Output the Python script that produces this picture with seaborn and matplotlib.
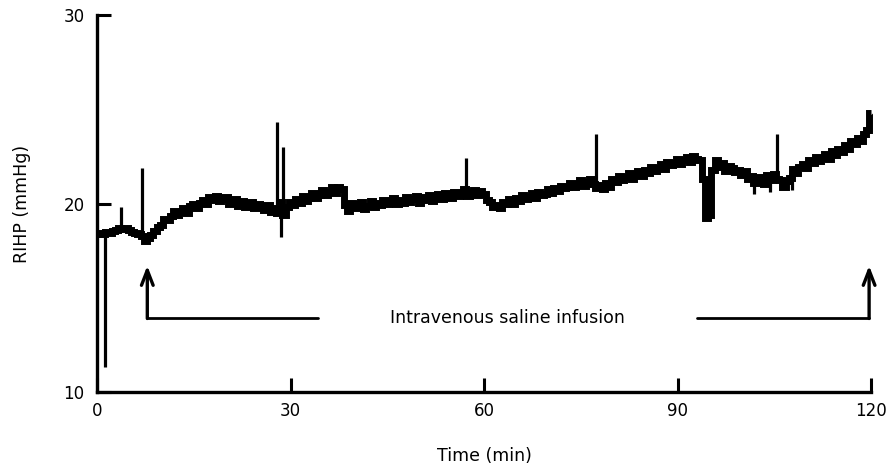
import numpy as np
import pandas as pd
import matplotlib
matplotlib.use("Agg")
import matplotlib.pyplot as plt
import seaborn as sns

# pressao intra-renal (RIHP), leitura a cada 0.5 min de 0 a 120
rihp = [
    18.40, 18.45, 18.40, 18.50, 18.45, 18.55, 18.60, 18.70, 18.65, 18.70,
    18.60, 18.50, 18.45, 18.40, 18.30, 18.00, 18.15, 18.35, 18.55, 18.75,
    18.85, 19.20, 19.10, 19.35, 19.60, 19.40, 19.55, 19.75, 19.50, 19.85,
    19.95, 19.75, 20.05, 20.20, 19.95, 20.35, 20.20, 20.40, 20.15, 20.25,
    20.35, 19.95, 20.10, 20.25, 19.85, 20.15, 19.80, 19.95, 20.10, 19.75,
    19.95, 19.80, 19.65, 19.90, 19.55, 19.75, 19.50, 20.10, 19.40, 19.80,
    20.10, 19.90, 20.25, 20.05, 20.40, 20.15, 20.30, 20.55, 20.30, 20.45,
    20.70, 20.45, 20.60, 20.85, 20.55, 20.90, 20.75, 19.90, 19.60, 20.05,
    19.75, 19.95, 20.10, 19.70, 19.85, 20.15, 19.80, 20.05, 19.90, 20.20,
    19.95, 20.10, 20.30, 19.95, 20.20, 20.05, 20.35, 20.10, 20.25, 20.40,
    20.05, 20.35, 20.20, 20.45, 20.15, 20.30, 20.50, 20.25, 20.55, 20.35,
    20.30, 20.60, 20.40, 20.50, 20.75, 20.40, 20.60, 20.70, 20.45, 20.65,
    20.50, 20.20, 20.10, 19.80, 19.90, 19.75, 20.10, 19.95, 20.25, 20.00,
    20.30, 20.15, 20.45, 20.25, 20.35, 20.55, 20.30, 20.60, 20.45, 20.50,
    20.75, 20.55, 20.80, 20.65, 20.95, 20.80, 20.90, 21.10, 20.85, 21.05,
    21.25, 20.95, 21.15, 21.30, 21.05, 20.80, 21.00, 20.75, 21.10, 20.90,
    21.30, 21.15, 21.45, 21.25, 21.40, 21.60, 21.30, 21.55, 21.75, 21.45,
    21.80, 21.60, 21.95, 21.75, 21.90, 22.10, 21.85, 22.20, 22.05, 22.15,
    22.35, 22.10, 22.30, 22.45, 22.20, 22.50, 22.35, 22.30, 21.30, 19.25,
    19.40, 21.80, 22.30, 21.95, 22.15, 21.75, 22.00, 21.90, 21.65, 21.80,
    21.50, 21.70, 21.30, 21.45, 21.10, 21.40, 21.20, 21.05, 21.50, 21.25,
    21.55, 21.30, 21.25, 20.90, 21.20, 21.35, 21.85, 21.60, 21.95, 22.10,
    21.90, 22.30, 22.15, 22.45, 22.25, 22.40, 22.65, 22.35, 22.80, 22.55,
    22.90, 22.75, 23.10, 22.90, 23.30, 23.15, 23.45, 23.30, 23.70, 23.90,
    24.80,
]
time = np.arange(len(rihp)) * 0.5

# picos (artefatos) do registro: tempo, minimo, maximo
spike_t = [1.3, 3.7, 7.0, 27.9, 28.5, 28.8, 57.2, 77.4, 78.3,
           101.8, 104.3, 105.4, 107.8]
spike_lo = [11.3, 18.5, 18.3, 19.5, 18.2, 19.5, 20.5, 21.1, 20.6,
            20.5, 20.6, 21.3, 20.7]
spike_hi = [18.4, 19.8, 21.9, 24.3, 20.0, 23.0, 22.4, 23.7, 21.1,
            21.4, 21.2, 23.7, 21.3]

df = pd.DataFrame({"time": time, "rihp": rihp})

sns.set_theme(style="ticks")
plt.rcParams["font.family"] = ["DejaVu Sans"]
plt.rcParams["text.color"] = "black"
plt.rcParams["axes.labelcolor"] = "black"

fig = plt.figure(figsize=(8.89, 4.72), dpi=100)
ax = fig.add_axes([0.1091, 0.1695, 0.8707, 0.7987])

sns.lineplot(data=df, x="time", y="rihp", ax=ax, color="black",
             lw=5.0, estimator=None, clip_on=False, drawstyle="steps-mid",
             solid_joinstyle="miter", solid_capstyle="butt")
ax.vlines(spike_t, spike_lo, spike_hi, color="black", lw=2.3)

# setas da infusao salina
for xa in [7.8, 119.7]:
    ax.annotate("", xy=(xa, 16.7), xytext=(xa, 13.9),
                arrowprops=dict(arrowstyle="->,head_width=0.35,head_length=0.9",
                                lw=2.4, color="black", shrinkA=0, shrinkB=0))
ax.plot([7.8, 34.3], [13.93, 13.93], color="black", lw=2.0)
ax.plot([93.0, 119.7], [13.93, 13.93], color="black", lw=2.0)
ax.text(63.7, 13.93, "Intravenous saline infusion", ha="center", va="center",
        fontsize=12.5)

ax.set_xlim(0, 120)
ax.set_ylim(10, 30)
ax.set_xticks([0, 30, 60, 90, 120])
ax.set_yticks([10, 20, 30])
ax.tick_params(direction="in", length=10, width=2.2, labelsize=12,
               colors="black")
ax.tick_params(axis="x", pad=7)
ax.tick_params(axis="y", pad=9)
sns.despine(ax=ax)
for s in ["left", "bottom"]:
    ax.spines[s].set_linewidth(2.4)
    ax.spines[s].set_color("black")

ax.set_xlabel("Time (min)", fontsize=12.5)
ax.set_ylabel("RIHP (mmHg)", fontsize=12.5)
ax.xaxis.set_label_coords(0.5, -0.146)
ax.yaxis.set_label_coords(-0.085, 0.5)

fig.savefig("out.png", dpi=100)
